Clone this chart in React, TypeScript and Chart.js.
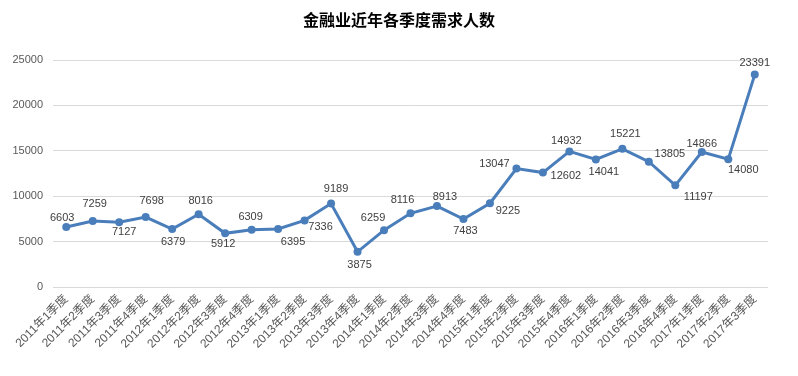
import React, { useEffect, useRef } from "react";
import { Chart, registerables } from "chart.js";

Chart.register(...registerables);

const title = "金融业近年各季度需求人数";

const categories = [
  "2011年1季度", "2011年2季度", "2011年3季度", "2011年4季度",
  "2012年1季度", "2012年2季度", "2012年3季度", "2012年4季度",
  "2013年1季度", "2013年2季度", "2013年3季度", "2013年4季度",
  "2014年1季度", "2014年2季度", "2014年3季度", "2014年4季度",
  "2015年1季度", "2015年2季度", "2015年3季度", "2015年4季度",
  "2016年1季度", "2016年2季度", "2016年3季度", "2016年4季度",
  "2017年1季度", "2017年2季度", "2017年3季度",
];

const demand = [
  6603, 7259, 7127, 7698,
  6379, 8016, 5912, 6309,
  6395, 7336, 9189, 3875,
  6259, 8116, 8913, 7483,
  9225, 13047, 12602, 14932,
  14041, 15221, 13805, 11197,
  14866, 14080, 23391,
];

const yTicks = [0, 5000, 10000, 15000, 20000, 25000];

// label offsets (dx, dy) relative to each point, as placed in the original
const labelOffsets: [number, number][] = [
  [-4, -9], [2, -17], [5, 10], [6, -16],
  [1, 13], [2, -13], [-2, 11], [-1, -13],
  [15, 13], [16, 7], [5, -15], [2, 13],
  [-11, -12], [-8, -13], [8, -9], [2, 12],
  [18, 8], [-22, -5], [23, 3], [-3, -10],
  [8, 12], [3, -15], [21, -8], [23, 12],
  [0, -8], [15, 11], [0, -12],
];

const LINE_COLOR = "#4a7ebb";
const NUM_FONT = '"Liberation Sans", "Noto Sans CJK SC", sans-serif';

const dataLabelPlugin = {
  id: "dataLabels",
  afterDatasetsDraw(chart: any) {
    const ctx = chart.ctx;
    const meta = chart.getDatasetMeta(0);
    ctx.save();
    ctx.font = `11px ${NUM_FONT}`;
    ctx.fillStyle = "#404040";
    ctx.textAlign = "center";
    ctx.textBaseline = "middle";
    meta.data.forEach((pt: any, i: number) => {
      const [dx, dy] = labelOffsets[i] || [0, -12];
      ctx.fillText(String(demand[i]), pt.x + dx, pt.y + dy);
    });
    ctx.restore();
  },
};

const titlePlugin = {
  id: "centerTitle",
  afterDraw(chart: any) {
    const ctx = chart.ctx;
    ctx.save();
    ctx.font = 'bold 16px "Noto Sans CJK SC", sans-serif';
    ctx.fillStyle = "#000000";
    ctx.textAlign = "center";
    ctx.textBaseline = "middle";
    ctx.fillText(title, chart.width / 2, 20);
    ctx.restore();
  },
};

export default function App() {
  const ref = useRef<HTMLCanvasElement | null>(null);

  useEffect(() => {
    document.body.style.margin = "0";
    const canvas = ref.current;
    if (!canvas) return;
    const chart = new Chart(canvas, {
      type: "line",
      data: {
        labels: categories,
        datasets: [
          {
            label: title,
            data: demand,
            borderColor: LINE_COLOR,
            backgroundColor: LINE_COLOR,
            borderWidth: 3,
            pointRadius: 4,
            pointBackgroundColor: LINE_COLOR,
            pointBorderColor: LINE_COLOR,
            pointBorderWidth: 0,
            tension: 0,
          },
        ],
      },
      options: {
        responsive: false,
        animation: false,
        layout: { padding: { top: 60, left: 0, right: 30, bottom: 0 } },
        plugins: {
          legend: { display: false },
          tooltip: { enabled: false },
          title: { display: false },
        },
        scales: {
          x: {
            type: "category",
            offset: true,
            grid: { display: false, drawTicks: false },
            border: { display: false },
            ticks: {
              autoSkip: false,
              maxRotation: 45,
              minRotation: 45,
              padding: 5,
              color: "#595959",
              font: { family: NUM_FONT, size: 12 },
            },
            afterFit(scale: any) {
              scale.height = 89;
            },
          },
          y: {
            min: 0,
            max: 25000,
            afterBuildTicks(scale: any) {
              scale.ticks = yTicks.map((v) => ({ value: v }));
            },
            grid: { color: "#d9d9d9", lineWidth: 1, drawTicks: false },
            border: { display: false },
            ticks: {
              padding: 10,
              color: "#595959",
              font: { family: NUM_FONT, size: 11 },
              callback: (v: any) => String(v),
            },
            afterFit(scale: any) {
              scale.width = 53;
            },
          },
        },
      },
      plugins: [dataLabelPlugin, titlePlugin],
    });
    return () => chart.destroy();
  }, []);

  return (
    <div style={{ width: 798, height: 376, background: "#ffffff" }}>
      <canvas ref={ref} width={798} height={376} />
    </div>
  );
}
